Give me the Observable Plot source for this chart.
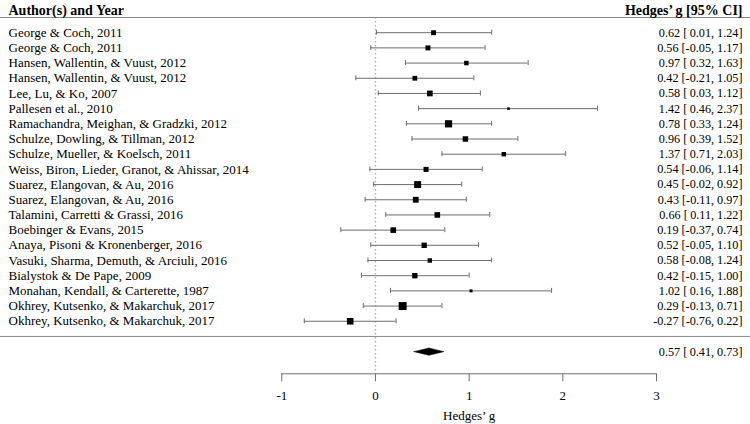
<!DOCTYPE html>
<html>
<head>
<meta charset="utf-8">
<script src="https://cdn.jsdelivr.net/npm/d3@7"></script>
<script src="https://cdn.jsdelivr.net/npm/@observablehq/plot@0.6"></script>
<style>
  html, body { margin: 0; padding: 0; background: #fff; }
  svg { display: block; }
</style>
</head>
<body>
<div id="chart"></div>
<script>
const authors = [
  "George & Coch, 2011",
  "George & Coch, 2011",
  "Hansen, Wallentin, & Vuust, 2012",
  "Hansen, Wallentin, & Vuust, 2012",
  "Lee, Lu, & Ko, 2007",
  "Pallesen et al., 2010",
  "Ramachandra, Meighan, & Gradzki, 2012",
  "Schulze, Dowling, & Tillman, 2012",
  "Schulze, Mueller, & Koelsch, 2011",
  "Weiss, Biron, Lieder, Granot, & Ahissar, 2014",
  "Suarez, Elangovan, & Au, 2016",
  "Suarez, Elangovan, & Au, 2016",
  "Talamini, Carretti & Grassi, 2016",
  "Boebinger & Evans, 2015",
  "Anaya, Pisoni & Kronenberger, 2016",
  "Vasuki, Sharma, Demuth, & Arciuli, 2016",
  "Bialystok & De Pape, 2009",
  "Monahan, Kendall, & Carterette, 1987",
  "Okhrey, Kutsenko, & Makarchuk, 2017",
  "Okhrey, Kutsenko, & Makarchuk, 2017"
];
const hedgesG = [0.62, 0.56, 0.97, 0.42, 0.58, 1.42, 0.78, 0.96, 1.37, 0.54, 0.45, 0.43, 0.66, 0.19, 0.52, 0.58, 0.42, 1.02, 0.29, -0.27];
const ciLower = [0.01, -0.05, 0.32, -0.21, 0.03, 0.46, 0.33, 0.39, 0.71, -0.06, -0.02, -0.11, 0.11, -0.37, -0.05, -0.08, -0.15, 0.16, -0.13, -0.76];
const ciUpper = [1.24, 1.17, 1.63, 1.05, 1.12, 2.37, 1.24, 1.52, 2.03, 1.14, 0.92, 0.97, 1.22, 0.74, 1.10, 1.24, 1.00, 1.88, 0.71, 0.22];
const summaryEst = 0.57, summaryLower = 0.41, summaryUpper = 0.73;
const xTicks = [-1, 0, 1, 2, 3];
const headerLeft = "Author(s) and Year";
const headerRight = "Hedges\u2019 g [95% CI]";
const axisLabel = "Hedges\u2019 g";

const ciText = (e, l, u) => `${e.toFixed(2)} [${l < 0 ? "" : "\u2009"}${l.toFixed(2)}, ${u.toFixed(2)}]`;

const studies = authors.map((a, i) => ({
  label: a,
  row: i + 1,
  g: hedgesG[i],
  lb: ciLower[i],
  ub: ciUpper[i],
  w: 3.92 / (ciUpper[i] - ciLower[i]), // 1/SE, used for square size
  txt: ciText(hedgesG[i], ciLower[i], ciUpper[i])
}));

const sepRow = studies.length + 1;
const sumRow = studies.length + 2;
const axisRow = 23.46;
const dh = 0.24;
const summary = [{row: sumRow, txt: ciText(summaryEst, summaryLower, summaryUpper)}];
const diamond = [
  {x: summaryLower, y: sumRow},
  {x: summaryEst, y: sumRow - dh},
  {x: summaryUpper, y: sumRow},
  {x: summaryEst, y: sumRow + dh},
  {x: summaryLower, y: sumRow}
];

const W = 750, H = 424;
const mL = 281.3, mR = 94, mT = 17, mB = 50.7;
const font = "Liberation Serif";
const grey = "#6f6f6f";
const rightX = 742 - (W - mR);

const plot = Plot.plot({
  width: W,
  height: H,
  marginLeft: mL,
  marginRight: mR,
  marginTop: mT,
  marginBottom: mB,
  style: {fontFamily: font, fontSize: "13px", color: "#000", background: "#fff"},
  x: {domain: [-1, 3]},
  y: {domain: [0, axisRow], reverse: true, axis: null},
  r: {type: "linear", domain: d3.extent(studies, d => d.w), range: [1.42, 4.5]},
  marks: [
    Plot.ruleX([0], {y1: 0, y2: axisRow, stroke: "#b0b0b0", strokeDasharray: "1.5,2.5", strokeWidth: 1.3}),
    Plot.ruleY([0, sepRow], {stroke: "#888", strokeWidth: 1, insetLeft: -mL, insetRight: -mR}),
    Plot.ruleY([axisRow], {x1: xTicks[0], x2: xTicks[xTicks.length - 1], stroke: grey}),
    Plot.axisX({
      ticks: xTicks,
      tickFormat: d => String(d),
      tickSize: 8,
      tickPadding: 9,
      stroke: grey,
      fontSize: 13,
      label: axisLabel,
      labelAnchor: "center",
      labelArrow: "none",
      labelOffset: 46.5
    }),
    Plot.ruleY(studies, {y: "row", x1: "lb", x2: "ub", stroke: grey}),
    Plot.ruleX(studies, {x: "lb", y1: "row", y2: "row", insetTop: -2.5, insetBottom: -2.5, stroke: grey}),
    Plot.ruleX(studies, {x: "ub", y1: "row", y2: "row", insetTop: -2.5, insetBottom: -2.5, stroke: grey}),
    Plot.dot(studies, {x: "g", y: "row", r: "w", symbol: "square", fill: "#000", stroke: null}),
    Plot.line(diamond, {x: "x", y: "y", fill: "#000", stroke: "#000", strokeWidth: 0.5}),
    Plot.text(studies, {y: "row", text: "label", frameAnchor: "left", dx: -(mL - 8), textAnchor: "start", fill: "#000"}),
    Plot.text(studies, {y: "row", text: "txt", frameAnchor: "right", dx: rightX, textAnchor: "end", fill: "#000", fontSize: 12.2}),
    Plot.text(summary, {y: "row", text: "txt", frameAnchor: "right", dx: rightX, textAnchor: "end", fill: "#000", fontSize: 12.2}),
    Plot.text([headerLeft], {y: -0.46, text: d => d, frameAnchor: "left", dx: -(mL - 8), textAnchor: "start", fontWeight: "bold", fill: "#000", fontSize: 14}),
    Plot.text([headerRight], {y: -0.46, text: d => d, frameAnchor: "right", dx: rightX, textAnchor: "end", fontWeight: "bold", fill: "#000", fontSize: 14})
  ]
});
document.getElementById("chart").appendChild(plot);
</script>
</body>
</html>
